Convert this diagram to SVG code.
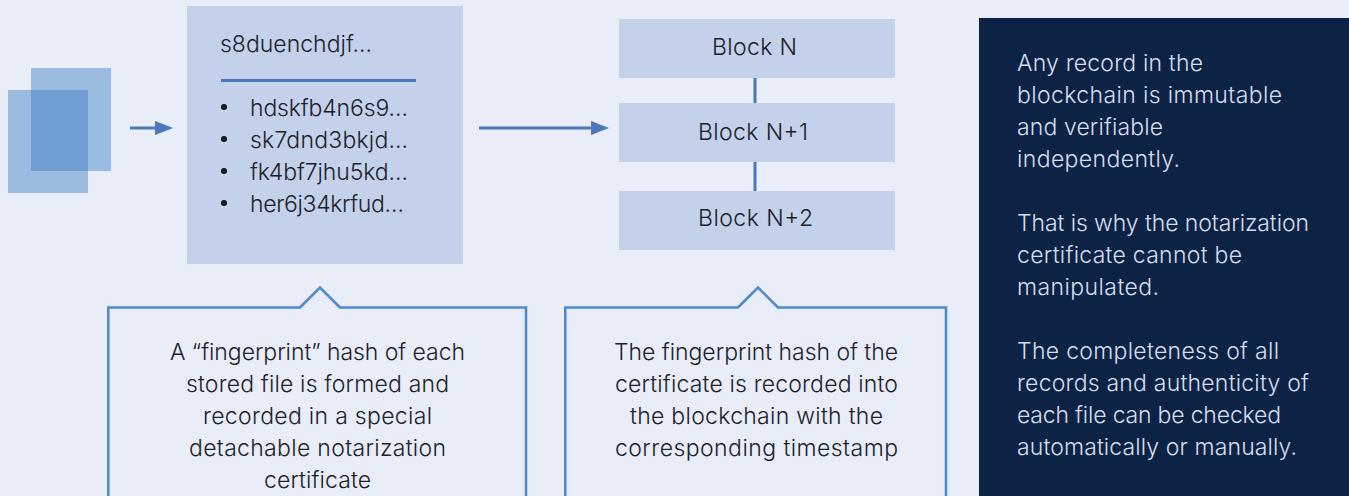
<svg xmlns="http://www.w3.org/2000/svg" width="1349" height="496" viewBox="0 0 1349 496">
<style>
text{font-family:"Inter","Liberation Sans",sans-serif;font-weight:300;font-size:23px;fill:#1c222b}
.w{fill:#d5deee}
.box{fill:#c3d1ea}
.doc{fill:#3a7ac1;fill-opacity:.434}
.link{stroke:#4a78b8;fill:none;stroke-width:3}
.call{stroke:#4f8acb;fill:none;stroke-width:2.6}
</style>
<defs><marker id="ah" markerUnits="userSpaceOnUse" markerWidth="19" markerHeight="14" refX="1" refY="7" orient="auto"><path d="M0 0L18 7L0 14Z" fill="#4a78b8"/></marker></defs>
<rect width="1349" height="496" fill="#e9edf8"/>
<g id="documents"><rect class="doc" x="31" y="68" width="80" height="103"/><rect class="doc" x="8" y="90" width="80" height="103"/></g>
<g id="hash-list"><rect class="box" x="187" y="6" width="276" height="258"/>
<text x="220" y="52" textLength="152">s8duenchdjf…</text>
<line x1="221" y1="80.500" x2="416" y2="80.500" class="link"/>
<circle cx="224" cy="107" r="3" fill="#111"/><circle cx="224" cy="139" r="3" fill="#111"/><circle cx="224" cy="171" r="3" fill="#111"/><circle cx="224" cy="203" r="3" fill="#111"/>
<text x="250" y="116" textLength="158">hdskfb4n6s9…</text><text x="250" y="148" textLength="158">sk7dnd3bkjd…</text><text x="250" y="180" textLength="158">fk4bf7jhu5kd…</text><text x="250" y="212" textLength="154">her6j34krfud…</text></g>
<g id="block-n"><rect class="box" x="619" y="19" width="276" height="59"/><text x="712" y="55" textLength="85">Block N</text></g>
<g id="block-n1"><rect class="box" x="619" y="103" width="276" height="59"/><text x="698" y="140" textLength="110">Block N+1</text></g>
<g id="block-n2"><rect class="box" x="619" y="191" width="276" height="59"/><text x="698" y="226" textLength="115">Block N+2</text></g>
<g id="connectors">
<line class="link" x1="130" y1="128" x2="156" y2="128" marker-end="url(#ah)"/>
<line class="link" x1="479" y1="128" x2="592" y2="128" marker-end="url(#ah)"/>
<line class="link" x1="755" y1="78" x2="755" y2="103"/>
<line class="link" x1="755" y1="162" x2="755" y2="191"/>
</g>
<g id="callout-1"><path class="call" d="M108.300 497V307.500H300L320 287.500L340 307.500H526V497"/>
<text x="170" y="360" textLength="295">A “fingerprint” hash of each</text><text x="186" y="392" textLength="263">stored file is formed and</text><text x="203" y="424" textLength="229">recorded in a special</text><text x="189" y="456" textLength="257">detachable notarization</text><text x="264" y="488" textLength="107">certificate</text></g>
<g id="callout-2"><path class="call" d="M565.300 497V307.500H738L758 287.500L778 307.500H946V497"/>
<text x="614" y="360" textLength="284">The fingerprint hash of the</text><text x="615" y="392" textLength="283">certificate is recorded into</text><text x="630" y="424" textLength="253">the blockchain with the</text><text x="615" y="456" textLength="283">corresponding timestamp</text></g>
<g id="side-panel"><rect x="979" y="18" width="370" height="478" fill="#0d2345"/>
<text class="w" x="1017" y="71" textLength="186">Any record in the</text><text class="w" x="1017" y="103" textLength="265">blockchain is immutable</text><text class="w" x="1017" y="135" textLength="146">and verifiable</text><text class="w" x="1017" y="167" textLength="163">independently.</text>
<text class="w" x="1017" y="231" textLength="292">That is why the notarization</text><text class="w" x="1017" y="263" textLength="225">certificate cannot be</text><text class="w" x="1017" y="295" textLength="142">manipulated.</text>
<text class="w" x="1017" y="359" textLength="262">The completeness of all</text><text class="w" x="1017" y="391" textLength="292">records and authenticity of</text><text class="w" x="1017" y="423" textLength="264">each file can be checked</text><text class="w" x="1017" y="455" textLength="280">automatically or manually.</text></g>
</svg>
